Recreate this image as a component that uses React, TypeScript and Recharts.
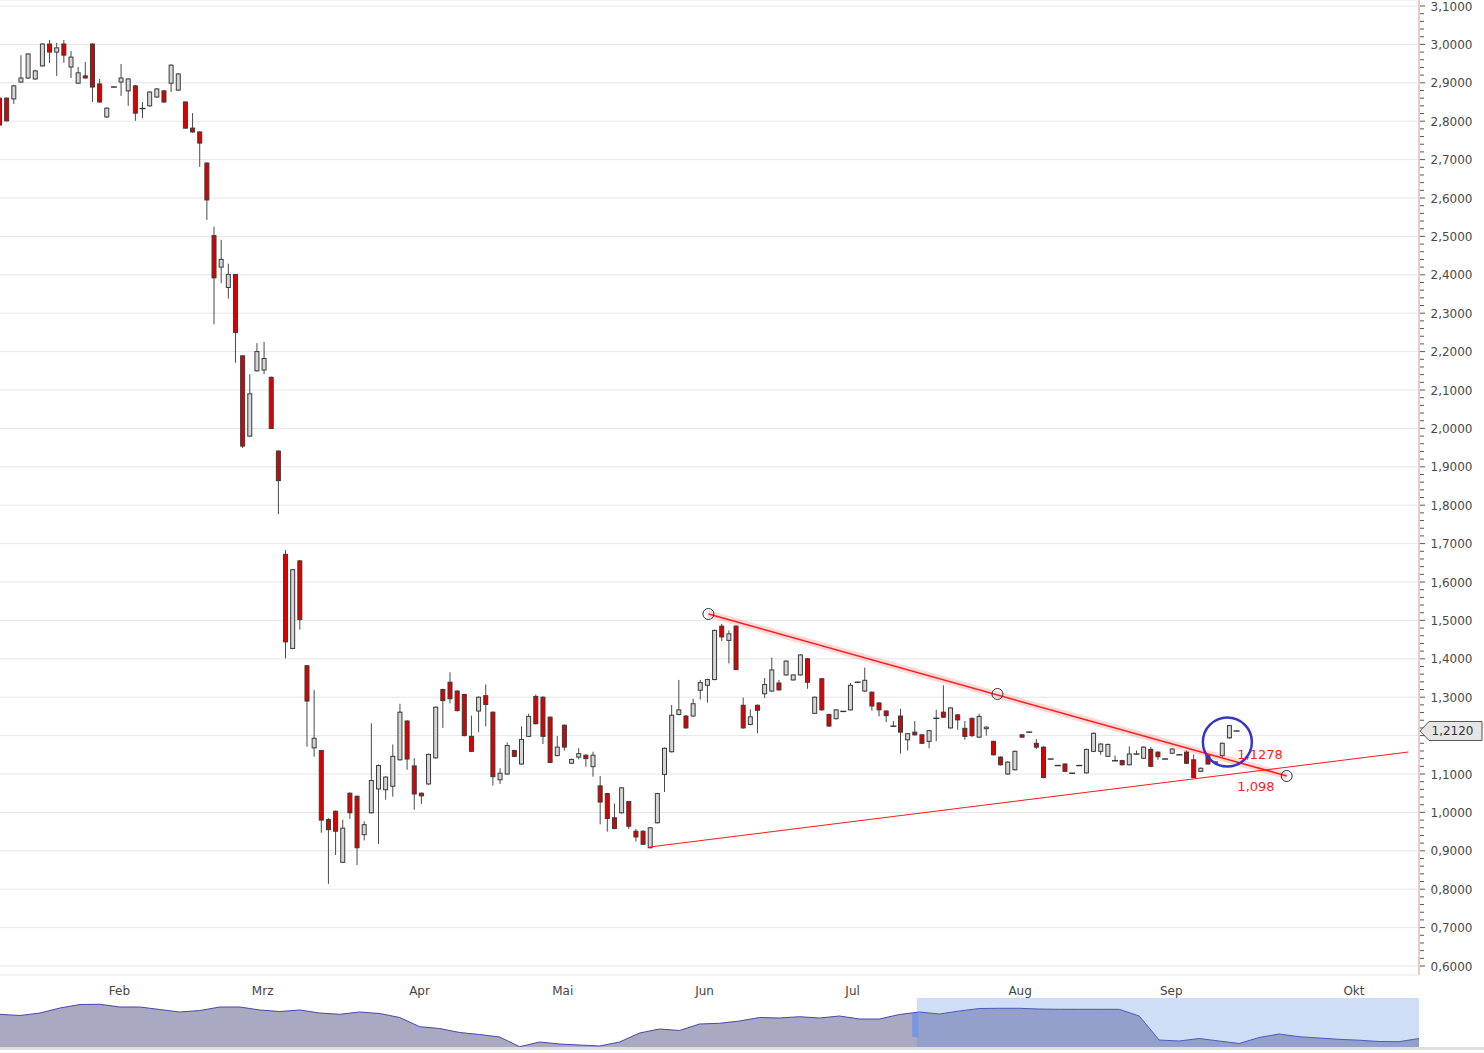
import React from 'react';
import {
  ComposedChart,
  Bar,
  XAxis,
  YAxis,
  CartesianGrid,
  ReferenceLine,
  ReferenceDot,
  AreaChart,
  Area,
  ReferenceArea,
} from 'recharts';

// ---------- candle data (one entry per trading day, starting mid January) ----------
const openP = [
  2.86, 2.86, 2.858, 2.902, 2.9125, 2.91, 2.944, 3.001, 2.98, 3.001,
  2.941, 2.899, 2.918, 3.001, 2.897, 2.811, 2.889, 2.902, 2.879, 2.892,
  2.834, 2.84, 2.863, 2.879, 2.899, 2.881, 2.85, 2.782, 2.772, 2.691,
  2.502, 2.42, 2.367, 2.401, 2.189, 1.98, 2.15, 2.152, 2.133, 1.941,
  1.672, 1.427, 1.655, 1.382, 1.168, 1.161, 0.981, 1.003, 0.87, 1.05,
  1.042, 0.942, 0.999, 1.061, 1.059, 1.068, 1.137, 1.238, 1.121, 1.05,
  1.074, 1.142, 1.32, 1.339, 1.316, 1.307, 1.198, 1.264, 1.304, 1.261,
  1.085, 1.1, 1.161, 1.126, 1.198, 1.302, 1.3, 1.248, 1.148, 1.227,
  1.128, 1.144, 1.149, 1.119, 1.069, 1.049, 0.986, 0.999, 1.028, 0.951,
  0.951, 0.908, 0.973, 1.099, 1.158, 1.255, 1.251, 1.251, 1.318, 1.331,
  1.346, 1.485, 1.448, 1.485, 1.279, 1.229, 1.279, 1.309, 1.316, 1.337,
  1.358, 1.345, 1.358, 1.4, 1.258, 1.348, 1.255, 1.244, 1.263, 1.267,
  1.339, 1.316, 1.313, 1.285, 1.264, 1.225, 1.251, 1.189, 1.209, 1.202,
  1.185, 1.244, 1.261, 1.22, 1.254, 1.219, 1.245, 1.196, 1.218, 1.185,
  1.144, 1.1, 1.111, 1.202, 1.209, 1.18, 1.17, 1.139, 1.122, 1.126,
  1.102, 1.122, 1.103, 1.159, 1.159, 1.146, 1.134, 1.135, 1.124, 1.152,
  1.141, 1.164, 1.157, 1.139, 1.154, 1.15, 1.157, 1.137, 1.107, 1.148,
  1.131, 1.148, 1.194, 1.212,
];
const highP = [
  2.865, 2.862, 2.895, 2.972, 2.977, 2.934, 3.003, 3.0115, 3.004, 3.0115,
  2.983, 2.941, 2.954, 3.003, 2.91, 2.836, 2.89, 2.949, 2.912, 2.894,
  2.85, 2.878, 2.886, 2.881, 2.948, 2.925, 2.852, 2.821, 2.774, 2.693,
  2.525, 2.491, 2.429, 2.402, 2.19, 2.141, 2.222, 2.225, 2.135, 1.943,
  1.683, 1.634, 1.657, 1.383, 1.319, 1.163, 0.985, 1.005, 0.981, 1.052,
  1.044, 0.977, 1.232, 1.125, 1.094, 1.177, 1.283, 1.24, 1.141, 1.052,
  1.153, 1.276, 1.322, 1.365, 1.318, 1.309, 1.252, 1.302, 1.333, 1.263,
  1.115, 1.182, 1.163, 1.224, 1.257, 1.307, 1.302, 1.25, 1.199, 1.229,
  1.14, 1.167, 1.151, 1.158, 1.095, 1.051, 1.023, 1.066, 1.03, 0.957,
  0.953, 0.962, 1.051, 1.169, 1.28, 1.345, 1.253, 1.296, 1.345, 1.348,
  1.476, 1.491, 1.474, 1.487, 1.299, 1.268, 1.281, 1.35, 1.403, 1.345,
  1.396, 1.36, 1.412, 1.402, 1.302, 1.35, 1.257, 1.269, 1.264, 1.337,
  1.34, 1.377, 1.315, 1.287, 1.266, 1.238, 1.27, 1.207, 1.238, 1.204,
  1.215, 1.267, 1.331, 1.274, 1.256, 1.238, 1.247, 1.257, 1.224, 1.187,
  1.146, 1.133, 1.161, 1.204, 1.21, 1.191, 1.172, 1.14, 1.123, 1.128,
  1.103, 1.123, 1.166, 1.208, 1.18, 1.179, 1.148, 1.137, 1.172, 1.161,
  1.172, 1.17, 1.159, 1.14, 1.167, 1.151, 1.161, 1.151, 1.117, 1.15,
  1.132, 1.182, 1.228, 1.213,
];
const lowP = [
  2.78, 2.799, 2.845, 2.9, 2.91, 2.908, 2.942, 2.952, 2.918, 2.952,
  2.9125, 2.897, 2.911, 2.85, 2.848, 2.809, 2.888, 2.866, 2.84, 2.801,
  2.808, 2.838, 2.861, 2.848, 2.876, 2.879, 2.78, 2.77, 2.681, 2.543,
  2.271, 2.378, 2.338, 2.171, 1.949, 1.978, 2.148, 2.141, 1.998, 1.777,
  1.401, 1.425, 1.476, 1.171, 1.145, 0.947, 0.814, 0.889, 0.868, 0.983,
  0.863, 0.927, 0.997, 0.918, 1.033, 1.041, 1.135, 1.111, 1.007, 1.022,
  1.072, 1.14, 1.22, 1.284, 1.263, 1.198, 1.157, 1.209, 1.224, 1.07,
  1.074, 1.098, 1.144, 1.124, 1.196, 1.229, 1.178, 1.129, 1.146, 1.161,
  1.126, 1.138, 1.119, 1.093, 0.969, 0.95, 0.956, 0.997, 0.957, 0.924,
  0.915, 0.906, 0.971, 1.053, 1.156, 1.253, 1.218, 1.249, 1.294, 1.286,
  1.344, 1.446, 1.388, 1.37, 1.218, 1.227, 1.206, 1.298, 1.314, 1.317,
  1.356, 1.343, 1.356, 1.322, 1.256, 1.265, 1.223, 1.242, 1.262, 1.265,
  1.338, 1.314, 1.265, 1.25, 1.235, 1.223, 1.153, 1.161, 1.2, 1.178,
  1.167, 1.186, 1.246, 1.218, 1.215, 1.189, 1.196, 1.194, 1.2, 1.148,
  1.122, 1.098, 1.109, 1.194, 1.208, 1.165, 1.089, 1.138, 1.121, 1.105,
  1.101, 1.121, 1.101, 1.157, 1.15, 1.144, 1.133, 1.122, 1.122, 1.151,
  1.139, 1.118, 1.137, 1.138, 1.152, 1.149, 1.126, 1.089, 1.105, 1.124,
  1.13, 1.142, 1.192, 1.211,
];
const closeP = [
  2.79, 2.801, 2.892, 2.9125, 2.975, 2.931, 3.001, 2.98, 2.991, 2.972,
  2.967, 2.926, 2.9125, 2.889, 2.85, 2.834, 2.889, 2.9125, 2.91, 2.821,
  2.832, 2.876, 2.884, 2.85, 2.946, 2.923, 2.782, 2.772, 2.743, 2.595,
  2.392, 2.44, 2.401, 2.25, 1.954, 2.09, 2.2, 2.182, 2.0, 1.864,
  1.444, 1.632, 1.502, 1.29, 1.193, 0.98, 0.955, 0.951, 0.959, 0.999,
  0.908, 0.968, 1.083, 1.122, 1.092, 1.146, 1.261, 1.139, 1.048, 1.043,
  1.151, 1.274, 1.291, 1.296, 1.265, 1.2, 1.159, 1.3, 1.281, 1.093,
  1.102, 1.174, 1.146, 1.19, 1.25, 1.231, 1.198, 1.13, 1.17, 1.17,
  1.138, 1.153, 1.14, 1.149, 1.027, 0.984, 0.958, 1.064, 0.964, 0.936,
  0.917, 0.96, 1.049, 1.167, 1.253, 1.267, 1.22, 1.283, 1.338, 1.346,
  1.474, 1.457, 1.465, 1.372, 1.22, 1.249, 1.266, 1.333, 1.371, 1.319,
  1.394, 1.358, 1.41, 1.339, 1.3, 1.267, 1.225, 1.267, 1.263, 1.331,
  1.339, 1.344, 1.277, 1.267, 1.252, 1.224, 1.209, 1.205, 1.202, 1.18,
  1.213, 1.246, 1.248, 1.272, 1.241, 1.198, 1.2, 1.25, 1.222, 1.15,
  1.124, 1.131, 1.159, 1.196, 1.209, 1.17, 1.091, 1.139, 1.122, 1.107,
  1.102, 1.122, 1.164, 1.206, 1.178, 1.177, 1.135, 1.124, 1.152, 1.152,
  1.17, 1.12, 1.145, 1.139, 1.165, 1.15, 1.128, 1.091, 1.115, 1.126,
  1.131, 1.18, 1.226, 1.212,
];

const TOTAL_SLOTS = 199; // trading-day slots shown (incl. empty future)

// ---------- axes ----------
const monthTicks = [15, 35, 57, 77, 97, 118, 140.8, 162, 187.65];
const monthLabels = ['Feb', 'Mrz', 'Apr', 'Mai', 'Jun', 'Jul', 'Aug', 'Sep', 'Okt'];
const priceGridTicks = [
  0.6, 0.7, 0.8, 0.9, 1.0, 1.1, 1.2, 1.3, 1.4, 1.5, 1.6, 1.7, 1.8,
  1.9, 2.0, 2.1, 2.2, 2.3, 2.4, 2.5, 2.6, 2.7, 2.8, 2.9, 3.0, 3.1,
];
const PRICE_MIN = 0.576563;
const PRICE_MAX = 3.115625;
const lastPrice = 1.212;

// ---------- drawings ----------
const upperTrend = [
  { x: 99.13, y: 1.5167 },
  { x: 139.55, y: 1.3083 },
  { x: 180.0, y: 1.0948 },
];
const lowerTrend = [
  { x: 90.88, y: 0.9099 },
  { x: 197.03, y: 1.1573 },
];
const trendLabels = [
  { x: 173.1, y: 1.1378, text: '1,1278' },
  { x: 173.1, y: 1.057, text: '1,098' },
];
const highlight = { x: 171.7, y: 1.1833 };

// ---------- navigator (long history overview) ----------
const navValues = [
  3.37, 3.25, 3.5, 4.0, 4.35, 4.37, 4.1, 4.1, 3.85, 3.6, 3.75, 4.1, 4.1, 3.8,
  3.65, 3.8, 3.5, 3.37, 3.6, 3.45, 3.05, 2.13, 1.95, 1.55, 1.35, 1.1, 0.13, 0.6,
  0.4, 0.3, 0.2, 0.6, 1.5, 1.9, 1.75, 2.4, 2.47, 2.7, 3.05, 3.0, 3.13, 3.0, 3.2,
  2.9, 2.9, 3.35, 3.6, 3.4, 3.7, 3.95, 3.97, 3.97, 3.9, 3.87, 3.87, 3.87, 3.87,
  3.2, 0.8, 0.7, 0.95, 0.7, 0.45, 1.05, 1.4, 1.13, 1.0, 0.87, 0.78, 0.65, 0.63,
  0.95,
];
const navSelection = [45.87, 71];
const navHandle = { x1: 45.64, x2: 45.95, y1: 1.1, y2: 3.5 };

// ---------- derived tables ----------
const rows = Array.from({ length: TOTAL_SLOTS }, (_, k) =>
  k < openP.length
    ? { k, o: openP[k], h: highP[k], l: lowP[k], c: closeP[k], range: [lowP[k], highP[k]] }
    : { k, range: null }
);

const minorTicks: number[] = [];
for (let i = 0; i <= 125; i++) minorTicks.push(Math.round((0.6 + i * 0.02) * 100) / 100);
const yTicks = [...minorTicks, lastPrice];

const navRows = navValues.map((v, t) => ({ t, v }));

const fmt = (v: number) => v.toFixed(4).replace('.', ',');
const FONT = '"DejaVu Sans", Verdana, sans-serif';

function Candle(props: any) {
  const { x, y, width, height, payload } = props;
  if (!payload || payload.h == null) return <g />;
  const { o, h, l, c } = payload;
  const top = Math.min(y, y + height);
  const span = Math.abs(height);
  const range = h - l;
  const py = (v: number) => (range > 0 ? top + ((h - v) / range) * span : top);
  const cx = x + width / 2;
  const up = c >= o;
  const bTop = py(Math.max(o, c));
  const bBot = py(Math.min(o, c));
  const bw = 4;
  return (
    <g>
      <line x1={cx} x2={cx} y1={py(h)} y2={py(l)} stroke="#4a4a4a" strokeWidth={1} />
      {bBot - bTop < 1.2 ? (
        <line
          x1={cx - 3}
          x2={cx + 3}
          y1={(bTop + bBot) / 2}
          y2={(bTop + bBot) / 2}
          stroke="#333"
          strokeWidth={1.4}
        />
      ) : (
        <rect
          x={cx - bw / 2}
          y={bTop}
          width={bw}
          height={bBot - bTop}
          fill={up ? '#d6d6d6' : '#dd0000'}
          stroke="#3a3a3a"
          strokeWidth={1}
        />
      )}
    </g>
  );
}

function PriceTick(props: any) {
  const { x, y, payload } = props;
  const v = payload.value;
  if (Math.abs(v - lastPrice) < 1e-9) {
    return (
      <g>
        <path
          d={`M${x + 1},${y} L${x + 10},${y - 9.5} L${x + 63},${y - 9.5} L${x + 63},${y + 9.5} L${x + 10},${y + 9.5} Z`}
          fill="#e6e6e6"
          stroke="#555"
          strokeWidth={1}
        />
        <text x={x + 12.5} y={y + 4.5} fontSize={12} fill="#333" fontFamily={FONT}>
          {fmt(v)}
        </text>
      </g>
    );
  }
  const major = Math.abs(v * 10 - Math.round(v * 10)) < 1e-6;
  const hidden = Math.abs(v - lastPrice) < 0.025;
  return (
    <g>
      <line x1={x + 1} x2={x + (major ? 6 : 5)} y1={y} y2={y} stroke="#555" strokeWidth={1} />
      {major && !hidden && (
        <text x={x + 11.5} y={y + 4.5} fontSize={12} fill="#4a4a4a" fontFamily={FONT}>
          {fmt(v)}
        </text>
      )}
    </g>
  );
}

function MonthLabel(props: any) {
  const vb = props.viewBox || { x: 0, y: 0, width: 0, height: 0 };
  return (
    <text
      x={vb.x + 2}
      y={vb.y + vb.height + 19.5}
      fontSize={12}
      fill="#444"
      fontFamily={FONT}
    >
      {props.text}
    </text>
  );
}

export default function App() {
  return (
    <div
      style={{
        position: 'absolute',
        left: 0,
        top: 0,
        width: 1484,
        height: 1053,
        overflow: 'hidden',
        background: '#fff',
        fontFamily: FONT,
      }}
    >
      <div style={{ position: 'absolute', left: -4.4, top: 0 }}>
        <ComposedChart
          width={1489}
          height={1000}
          data={rows}
          margin={{ top: 0, right: 0, bottom: 0, left: 0 }}
          barCategoryGap={0}
        >
          <XAxis xAxisId="c" dataKey="k" type="category" hide />
          <XAxis
            xAxisId="n"
            dataKey="k"
            type="number"
            domain={[-0.5, TOTAL_SLOTS - 0.5]}
            allowDataOverflow
            ticks={monthTicks}
            interval={0}
            tick={false}
            tickLine={false}
            height={25}
            axisLine={{ stroke: '#c8c8c8' }}
          />
          <YAxis
            yAxisId="g"
            domain={[PRICE_MIN, PRICE_MAX]}
            allowDataOverflow
            ticks={priceGridTicks}
            interval={0}
            hide
          />
          <YAxis
            yAxisId="p"
            orientation="right"
            width={66}
            domain={[PRICE_MIN, PRICE_MAX]}
            allowDataOverflow
            ticks={yTicks}
            interval={0}
            tick={<PriceTick />}
            tickLine={false}
            tickSize={0}
            tickMargin={0}
            axisLine={{ stroke: '#e3a5a5' }}
          />
          <CartesianGrid xAxisId="n" yAxisId="g" stroke="#e6e6e6" strokeWidth={1} />
          <Bar
            xAxisId="c"
            yAxisId="p"
            dataKey="range"
            shape={<Candle />}
            isAnimationActive={false}
          />
          {monthTicks.map((m, i) => (
            <ReferenceLine
              key={'m' + i}
              xAxisId="n"
              yAxisId="p"
              x={m}
              stroke="#000"
              strokeOpacity={0}
              label={<MonthLabel text={monthLabels[i]} />}
            />
          ))}
          <ReferenceLine
            xAxisId="n"
            yAxisId="p"
            segment={[upperTrend[0], upperTrend[2]]}
            stroke="rgba(255,60,60,0.2)"
            strokeWidth={7}
          />
          <ReferenceLine
            xAxisId="n"
            yAxisId="p"
            segment={[upperTrend[0], upperTrend[2]]}
            stroke="#ff1a1a"
            strokeWidth={1.5}
          />
          <ReferenceLine
            xAxisId="n"
            yAxisId="p"
            segment={[lowerTrend[0], lowerTrend[1]]}
            stroke="#ff1a1a"
            strokeWidth={1}
          />
          {upperTrend.map((p, i) => (
            <ReferenceDot
              key={i}
              xAxisId="n"
              yAxisId="p"
              x={p.x}
              y={p.y}
              r={5.5}
              fill="none"
              stroke="#333"
              strokeWidth={1}
            />
          ))}
          <ReferenceDot
            xAxisId="n"
            yAxisId="p"
            x={highlight.x}
            y={highlight.y}
            r={24.5}
            fill="none"
            stroke="#3535c8"
            strokeWidth={2.5}
          />
          {trendLabels.map((t, i) => (
            <ReferenceDot
              key={'l' + i}
              xAxisId="n"
              yAxisId="p"
              x={t.x}
              y={t.y}
              r={0}
              shape={(p: any) => (
                <text x={p.cx} y={p.cy} fontSize={13} fill="#ff1a1a" fontFamily={FONT}>
                  {t.text}
                </text>
              )}
            />
          ))}
        </ComposedChart>
      </div>

      <div style={{ position: 'absolute', left: 0, top: 998 }}>
        <AreaChart
          width={1419}
          height={50}
          data={navRows}
          margin={{ top: 0, right: 0, bottom: 0, left: 0 }}
        >
          <XAxis dataKey="t" type="number" domain={[0, navValues.length - 1]} hide />
          <YAxis domain={[0, 5]} hide />
          <Area
            dataKey="v"
            type="linear"
            fill="#a9a9c2"
            fillOpacity={1}
            stroke="#4848a8"
            strokeWidth={1}
            isAnimationActive={false}
            dot={false}
            activeDot={false}
          />
          <ReferenceArea
            x1={navSelection[0]}
            x2={navSelection[1]}
            fill="#5b89e3"
            fillOpacity={0.29}
            stroke="none"
          />
          <ReferenceArea
            x1={navHandle.x1}
            x2={navHandle.x2}
            y1={navHandle.y1}
            y2={navHandle.y2}
            fill="#7896e4"
            fillOpacity={1}
            stroke="none"
          />
        </AreaChart>
      </div>
      <div
        style={{
          position: 'absolute',
          left: 0,
          top: 1047,
          width: 1484,
          height: 3,
          background: '#dedede',
        }}
      />
    </div>
  );
}
